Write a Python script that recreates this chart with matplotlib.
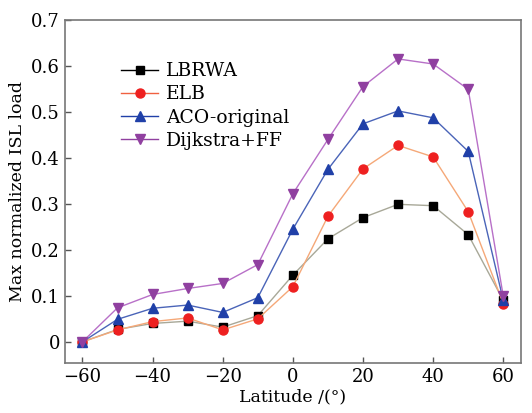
import matplotlib
matplotlib.use("Agg")
import matplotlib.pyplot as plt

latitude = [-60, -50, -40, -30, -20, -10, 0, 10, 20, 30, 40, 50, 60]
lbrwa = [0.0, 0.027, 0.040, 0.045, 0.032, 0.057, 0.145, 0.224, 0.270, 0.299, 0.296, 0.233, 0.090]
elb = [0.0, 0.026, 0.044, 0.052, 0.026, 0.050, 0.120, 0.273, 0.376, 0.427, 0.402, 0.283, 0.083]
aco = [0.0, 0.049, 0.073, 0.080, 0.064, 0.096, 0.245, 0.375, 0.474, 0.502, 0.487, 0.414, 0.090]
dijkstra = [0.0, 0.074, 0.103, 0.116, 0.127, 0.168, 0.322, 0.440, 0.555, 0.615, 0.604, 0.549, 0.099]

xticks = [-60, -40, -20, 0, 20, 40, 60]
yticks = [0, 0.1, 0.2, 0.3, 0.4, 0.5, 0.6, 0.7]
ytick_labels = ["0", "0.1", "0.2", "0.3", "0.4", "0.5", "0.6", "0.7"]

plt.rcParams["font.family"] = ["DejaVu Serif"]

fig = plt.figure(figsize=(5.32, 4.13), dpi=100)
ax = fig.add_axes([0.122, 0.121, 0.857, 0.831])

series = [
    ("LBRWA", lbrwa, "s", "black", "#a8a898", 6),
    ("ELB", elb, "o", "#ee2020", "#f5a878", 6.5),
    ("ACO-original", aco, "^", "#2040a8", "#4a64b8", 7.5),
    ("Dijkstra+FF", dijkstra, "v", "#9040a0", "#b870c8", 7.5),
]
handles = []
for name, vals, mk, mc, lc, ms in series:
    ax.plot(latitude, vals, color=lc, lw=1.0, marker=mk, ms=ms,
            mfc=mc, mec=mc, zorder=3)
    h, = ax.plot([], [], color=mc if name != "ELB" else "#f06040", lw=1.0,
                 marker=mk, ms=ms, mfc=mc, mec=mc, label=name)
    handles.append(h)

ax.set_xlim(-65, 65)
ax.set_ylim(-0.046, 0.7)
ax.set_xticks(xticks)
ax.set_xticklabels(["\u221260", "\u221240", "\u221220", "0", "20", "40", "60"])
ax.set_yticks(yticks)
ax.set_yticklabels(ytick_labels)
ax.tick_params(direction="in", length=4, width=1, labelsize=13, colors="#555555",
               labelcolor="black")
for sp in ax.spines.values():
    sp.set_color("#777777")
    sp.set_linewidth(1.2)

ax.set_xlabel("Latitude /(\u00b0)", fontsize=12.5, labelpad=2)
ax.set_ylabel("Max normalized ISL load", fontsize=12.5, labelpad=4)

ax.legend(handles=handles, loc="upper left", bbox_to_anchor=(0.094, 0.915),
          frameon=False, fontsize=13.5, handlelength=2.0, handletextpad=0.4,
          labelspacing=0.28, borderpad=0.2)

fig.savefig("out.png", dpi=100)
